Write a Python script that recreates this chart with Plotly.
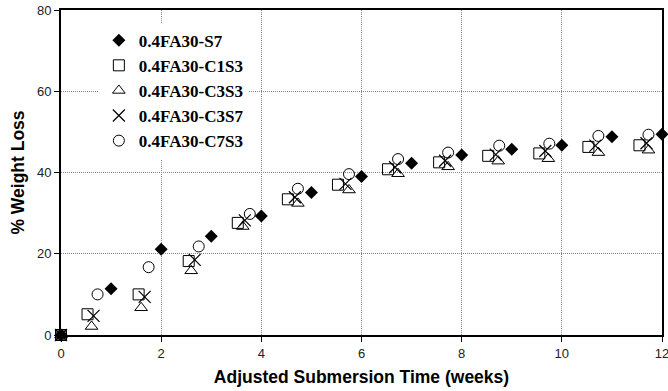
import plotly.graph_objects as go

s7_x = [0, 1, 2, 3, 4, 5, 6, 7, 8, 9, 10, 11, 12]
s7_y = [0, 11.4, 21.1, 24.3, 29.3, 35.1, 39.0, 42.3, 44.3, 45.7, 46.7, 48.8, 49.4]

c1s3_x = [0, 0.53, 1.55, 2.55, 3.53, 4.53, 5.53, 6.53, 7.55, 8.53, 9.55, 10.53, 11.55]
c1s3_y = [0, 5.1, 10.0, 18.2, 27.6, 33.4, 37.0, 40.8, 42.5, 44.1, 44.7, 46.3, 46.7]

c3s3_x = [0, 0.61, 1.6, 2.6, 3.63, 4.73, 5.75, 6.73, 7.73, 8.73, 9.73, 10.73, 11.73]
c3s3_y = [0, 2.1, 6.7, 15.8, 26.7, 32.4, 35.7, 39.7, 41.4, 42.8, 43.4, 44.9, 45.5]

c3s7_x = [0, 0.65, 1.67, 2.67, 3.67, 4.67, 5.68, 6.67, 7.67, 8.68, 9.67, 10.67, 11.69]
c3s7_y = [0, 4.7, 9.4, 18.5, 28.2, 33.9, 37.2, 41.3, 42.9, 44.4, 45.3, 46.6, 47.2]

c7s3_x = [0, 0.73, 1.75, 2.75, 3.77, 4.73, 5.75, 6.73, 7.73, 8.75, 9.75, 10.73, 11.73]
c7s3_y = [0, 10.0, 16.7, 21.8, 29.8, 36.0, 39.6, 43.3, 44.9, 46.6, 47.1, 49.0, 49.3]

names = ["0.4FA30-S7", "0.4FA30-C1S3", "0.4FA30-C3S3", "0.4FA30-C3S7", "0.4FA30-C7S3"]

fig = go.Figure()
series = [
    (s7_x, s7_y, names[0], dict(symbol="diamond", size=10, color="black", line=dict(width=0))),
    (c1s3_x, c1s3_y, names[1], dict(symbol="square-open", size=11, color="black", line=dict(width=1))),
    (c3s3_x, c3s3_y, names[2], dict(symbol="triangle-up-open", size=11, color="black", line=dict(width=1))),
    (c3s7_x, c3s7_y, names[3], dict(symbol="x-thin-open", size=12, color="black", line=dict(width=1.2))),
    (c7s3_x, c7s3_y, names[4], dict(symbol="circle-open", size=11, color="black", line=dict(width=1))),
]
for x, y, n, m in series:
    fig.add_trace(go.Scatter(x=x, y=y, name=n, mode="markers", marker=m, cliponaxis=False))

fig.update_layout(
    width=668, height=391,
    margin=dict(l=61, r=6, t=10, b=56, autoexpand=False),
    plot_bgcolor="white", paper_bgcolor="white",
    font=dict(family="Liberation Sans, Arial", size=13, color="black"),
    legend=dict(
        x=0.063, y=0.961, xanchor="left", yanchor="top",
        bgcolor="white", borderwidth=0,
        font=dict(family="Liberation Serif, Times New Roman", size=17, color="black", weight="bold"),
        tracegroupgap=0, itemsizing="trace",
    ),
    xaxis=dict(
        range=[0, 12], dtick=2, tick0=0, automargin=False, ticklabeloverflow="allow",
        showgrid=True, gridcolor="#888", griddash="1px,1px", gridwidth=1,
        showline=True, linecolor="black", linewidth=2, mirror=True,
        ticks="outside", ticklen=5, tickcolor="black",
        zeroline=False,
        title=dict(text="Adjusted Submersion Time (weeks)", font=dict(size=17.5, weight="bold"), standoff=11),
        tickfont=dict(size=13, color="#222"),
    ),
    yaxis=dict(
        range=[0, 80], dtick=20, tick0=0, automargin=False, ticklabeloverflow="allow",
        showgrid=True, gridcolor="#888", griddash="1px,1px", gridwidth=1,
        showline=True, linecolor="black", linewidth=2, mirror=True,
        ticks="outside", ticklen=5, tickcolor="black",
        zeroline=False,
        title=dict(text="% Weight Loss", font=dict(size=17.5, weight="bold"), standoff=8),
        tickfont=dict(size=13, color="#222"),
    ),
)

fig.write_html("out.html", config={"displayModeBar": False},
               post_script="document.body.style.margin='0';")
